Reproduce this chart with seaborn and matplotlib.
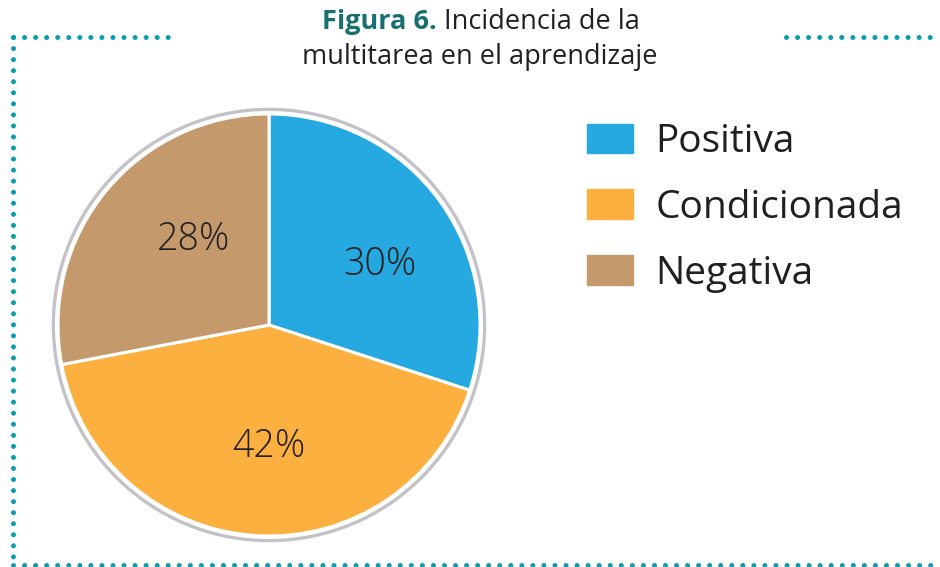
import matplotlib.pyplot as plt
import seaborn as sns
from matplotlib.lines import Line2D
from matplotlib.patches import Circle

# datos de la figura
categorias = ['Positiva', 'Condicionada', 'Negativa']
porcentajes = [30, 42, 28]
colores = ['#25A9E0', '#FBB040', '#C49A6C']

sns.set_theme(style='white')
plt.rcParams['font.family'] = ['Open Sans', 'DejaVu Sans']

W, H = 940, 567
fig = plt.figure(figsize=(W / 100, H / 100), dpi=100)

# ejes del pastel: centro (269, 325) px, radio 211 px
cx, cy, r = 269, 325, 211
half = 230
ax = fig.add_axes([(cx - half) / W, (H - cy - half) / H, 2 * half / W, 2 * half / H])
lim = half / r
wedges, _ = ax.pie(porcentajes, colors=colores, startangle=90, counterclock=False,
                   radius=1, wedgeprops=dict(edgecolor='white', linewidth=2.2))
ax.add_patch(Circle((0, 0), 1.022, fill=False, edgecolor='#C3C2C7', linewidth=2.4))
ax.set_xlim(-lim, lim)
ax.set_ylim(-lim, lim)
ax.set_aspect('equal')
ax.axis('off')

# etiquetas de porcentaje
pos_etiquetas = [(380, 265), (269, 447), (194, 240)]
for (px, py), p in zip(pos_etiquetas, porcentajes):
    fig.text(px / W, 1 - py / H, f'{p}%', ha='center', va='center',
             fontsize=27, fontweight='light', color='#231F20')

# leyenda
handles = [plt.Rectangle((0, 0), 1, 1, color=c) for c in colores]
fig.legend(handles, categorias, loc='upper left', bbox_to_anchor=(587 / W, 1 - 123 / H),
           frameon=False, fontsize=28, handlelength=1.18, handleheight=0.8,
           handletextpad=0.58, labelspacing=0.715, borderpad=0, borderaxespad=0,
           labelcolor='#231F20')

# título
titulo1a = 'Figura 6.'
titulo1b = ' Incidencia de la'
titulo2 = 'multitarea en el aprendizaje'
ta = fig.text(0, 1 - 22 / H, titulo1a, ha='left', va='center', fontsize=19.5,
              fontweight='bold', color='#17706F')
tb = fig.text(0, 1 - 22 / H, titulo1b, ha='left', va='center', fontsize=19.5,
              color='#231F20')
fig.canvas.draw()
ren = fig.canvas.get_renderer()
wa = ta.get_window_extent(ren).width
wb = tb.get_window_extent(ren).width
x0 = 481 - (wa + wb) / 2
ta.set_x(x0 / W)
tb.set_x((x0 + wa) / W)
fig.text(480 / W, 1 - 57 / H, titulo2, ha='center', va='center', fontsize=19.5,
         color='#231F20')

# borde punteado
punteado = dict(color='#0A9DAD', linewidth=3.6, linestyle=(0, (0.01, 2.2)),
                solid_capstyle='round', dash_capstyle='round')
y_top = 1 - 37 / H
y_bot = 1 - 565 / H
x_l = 13 / W
fig.add_artist(Line2D([x_l, x_l], [y_top, y_bot], **punteado))
fig.add_artist(Line2D([x_l, 178 / W], [y_top, y_top], **punteado))
fig.add_artist(Line2D([786 / W, 1], [y_top, y_top], **punteado))
fig.add_artist(Line2D([x_l, 1], [y_bot, y_bot], **punteado))

fig.savefig('out.png', dpi=100)
